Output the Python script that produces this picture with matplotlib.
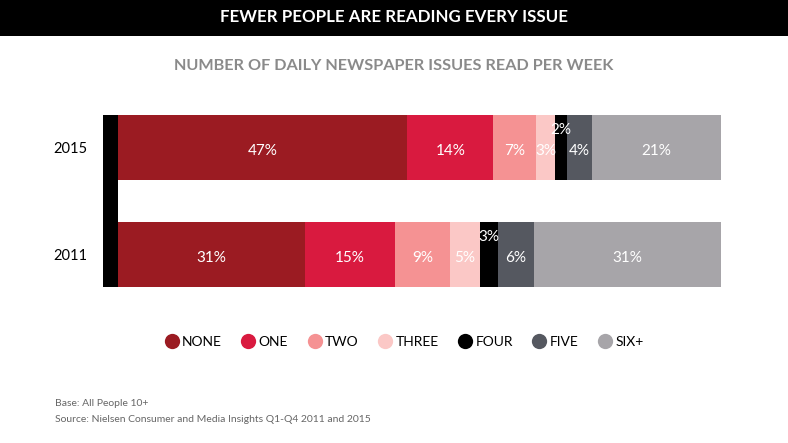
import numpy as np
import matplotlib.pyplot as plt
from matplotlib.patches import Rectangle
from matplotlib.lines import Line2D

plt.rcParams["font.family"] = ["Lato", "DejaVu Sans"]

years = ["2015", "2011"]
categories = ["NONE", "ONE", "TWO", "THREE", "FOUR", "FIVE", "SIX+"]
values_2015 = [47, 14, 7, 3, 2, 4, 21]
values_2011 = [31, 15, 9, 5, 3, 6, 31]
colors = ["#9b1b22", "#d91a3f", "#f59293", "#fbc8c6", "#000000", "#555860", "#a7a5a9"]

W, H = 788, 443
fig = plt.figure(figsize=(W / 100, H / 100), dpi=100)

# black title band
fig.patches.append(Rectangle((0, 1 - 36 / H), 1, 36 / H, transform=fig.transFigure,
                             facecolor="black", edgecolor="none", zorder=0))
fig.text(0.5, 1 - 17 / H, "FEWER PEOPLE ARE READING EVERY ISSUE", color="white",
         fontsize=12.2, fontweight="bold", ha="center", va="center")
fig.text(0.5, 1 - 66 / H, "NUMBER OF DAILY NEWSPAPER ISSUES READ PER WEEK",
         color="#8a8a8a", fontsize=11.7, fontweight="bold", ha="center", va="center")

ax = fig.add_axes([118 / W, 1 - 308 / H, 603 / W, 214 / H])
ax.set_xlim(0, 100)
ax.set_ylim(1.5, -0.5)
ax.axis("off")

rows = [values_2015, values_2011]
for i, vals in enumerate(rows):
    vals = np.array(vals, dtype=float)
    share = vals / vals.sum() * 100
    left = np.concatenate([[0], np.cumsum(share)[:-1]])
    ax.barh([i] * len(vals), share, left=left, height=0.607, color=colors,
            edgecolor="none")
    for j, (v, l, s) in enumerate(zip(vals, left, share)):
        dy = -0.16 if categories[j] == "FOUR" else 0.03
        ax.text(l + s / 2, i + dy, f"{v:.0f}%", color="white", fontsize=11,
                ha="center", va="center")
    fig.text(70 / W, 1 - (149 + 107 * i) / H, years[i], fontsize=10.5,
             ha="center", va="center", color="black")

# black spine on the left of the bars
fig.patches.append(Rectangle((103 / W, 1 - 287 / H), 15 / W, 172 / H,
                             transform=fig.transFigure, facecolor="black",
                             edgecolor="none"))

handles = [Line2D([], [], marker="o", linestyle="none", markersize=11,
                  markerfacecolor=c, markeredgecolor="none") for c in colors]
fig.legend(handles, categories, loc="center", bbox_to_anchor=(0.512, 1 - 342 / H),
           ncol=7, frameon=False, fontsize=10, handletextpad=0.15,
           columnspacing=1.3, handlelength=1.2)

fig.text(55 / W, 1 - 403 / H, "Base: All People 10+", fontsize=7.5,
         color="#666666", va="center")
fig.text(55 / W, 1 - 419 / H, "Source: Nielsen Consumer and Media Insights Q1-Q4 2011 and 2015",
         fontsize=7.5, color="#666666", va="center")

fig.savefig("out.png", dpi=100, facecolor="white")
